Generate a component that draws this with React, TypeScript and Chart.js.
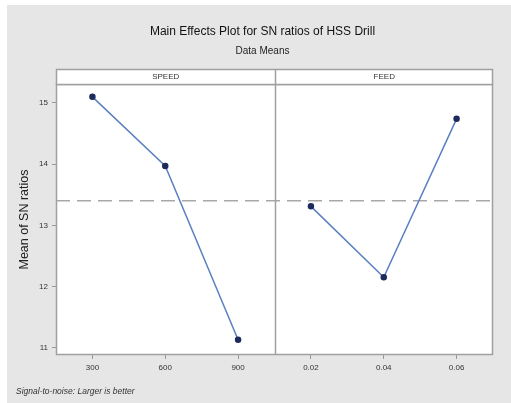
import { useEffect, useRef } from 'react';
import { Chart, registerables } from 'chart.js';

Chart.register(...registerables);

const categories = ['300', '600', '900', '0.02', '0.04', '0.06'];
const factors = ['SPEED', 'FEED'];
const speedMeans = [15.1, 13.97, 11.13];
const feedMeans = [13.31, 12.15, 14.74];
const overallMean = 13.4;
const yMin = 10.88;
const yMax = 15.31;
const titleText = 'Main Effects Plot for SN ratios of HSS Drill';
const subtitleText = 'Data Means';
const yTitle = 'Mean of SN ratios';
const footnote = 'Signal-to-noise: Larger is better';

const FONT = "'Liberation Sans', Arial, sans-serif";

const framePlugin = {
  id: 'frame',
  beforeDraw(chart: any) {
    const { ctx, width, height, chartArea } = chart;
    ctx.save();
    ctx.fillStyle = '#ffffff';
    ctx.fillRect(0, 0, width, height);
    ctx.fillStyle = '#e6e6e6';
    ctx.fillRect(7, 5, width - 7, height - 5);
    ctx.fillStyle = '#ffffff';
    ctx.fillRect(chartArea.left, chartArea.top, chartArea.right - chartArea.left, chartArea.bottom - chartArea.top);
    // titles
    ctx.fillStyle = '#111111';
    ctx.textAlign = 'center';
    ctx.textBaseline = 'middle';
    const cx = (chartArea.left + chartArea.right) / 2;
    ctx.font = `12px ${FONT}`;
    ctx.fillText(titleText, cx - 12, 32);
    ctx.fillStyle = '#222222';
    ctx.font = `10px ${FONT}`;
    ctx.fillText(subtitleText, cx - 12, 51);
    // footnote
    ctx.textAlign = 'left';
    ctx.font = `italic 8.5px ${FONT}`;
    ctx.fillStyle = '#333333';
    ctx.fillText(footnote, 16, 392);
    ctx.restore();
  },
  beforeDatasetsDraw(chart: any) {
    const { ctx, chartArea, scales } = chart;
    const x = scales.x;
    const y = scales.y;
    ctx.save();
    // mean dashed line
    const my = y.getPixelForValue(overallMean);
    ctx.strokeStyle = '#a8a8a8';
    ctx.lineWidth = 1.5;
    ctx.setLineDash([14, 7]);
    ctx.beginPath();
    ctx.moveTo(chartArea.left, my);
    ctx.lineTo(chartArea.right, my);
    ctx.stroke();
    ctx.setLineDash([]);
    // divider
    const dx = Math.round(x.getPixelForValue(2.5)) + 0.5;
    ctx.strokeStyle = '#a0a0a0';
    ctx.lineWidth = 1.5;
    ctx.beginPath();
    ctx.moveTo(dx, chartArea.top - 15);
    ctx.lineTo(dx, chartArea.bottom);
    ctx.stroke();
    // panel border
    ctx.strokeRect(chartArea.left + 0.5, chartArea.top + 0.5, chartArea.right - chartArea.left - 1, chartArea.bottom - chartArea.top - 1);
    // strip
    const stripTop = chartArea.top - 15;
    ctx.fillStyle = '#ffffff';
    ctx.fillRect(chartArea.left, stripTop, chartArea.right - chartArea.left, 15);
    ctx.strokeRect(chartArea.left + 0.5, stripTop + 0.5, chartArea.right - chartArea.left - 1, 15);
    ctx.beginPath();
    ctx.moveTo(dx, stripTop);
    ctx.lineTo(dx, chartArea.top);
    ctx.stroke();
    ctx.fillStyle = '#333333';
    ctx.font = `8px ${FONT}`;
    ctx.textAlign = 'center';
    ctx.textBaseline = 'middle';
    ctx.fillText(factors[0], (chartArea.left + dx) / 2, stripTop + 8);
    ctx.fillText(factors[1], (dx + chartArea.right) / 2, stripTop + 8);
    ctx.restore();
  },
};

export default function App() {
  const ref = useRef<HTMLCanvasElement | null>(null);
  useEffect(() => {
    if (!ref.current) return;
    Chart.defaults.font.family = FONT;
    const speedData = [...speedMeans, ...feedMeans.map(() => null)];
    const feedData = [...speedMeans.map(() => null), ...feedMeans];
    const chart = new Chart(ref.current, {
      type: 'line',
      data: {
        labels: categories,
        datasets: [
          {
            label: factors[0],
            data: speedData,
            borderColor: '#5b7fc0',
            borderWidth: 1.5,
            pointBackgroundColor: '#1d2b5c',
            pointBorderColor: '#1d2b5c',
            pointRadius: 2.5,
            spanGaps: false,
          },
          {
            label: factors[1],
            data: feedData,
            borderColor: '#5b7fc0',
            borderWidth: 1.5,
            pointBackgroundColor: '#1d2b5c',
            pointBorderColor: '#1d2b5c',
            pointRadius: 2.5,
            spanGaps: false,
          },
        ],
      },
      options: {
        responsive: false,
        animation: false,
        devicePixelRatio: 1,
        layout: { padding: { top: 84, right: 18, left: 0, bottom: 0 } },
        plugins: {
          legend: { display: false },
          title: { display: false },
          tooltip: { enabled: false },
        },
        scales: {
          x: {
            type: 'category',
            offset: true,
            grid: { display: true, drawOnChartArea: false, drawTicks: true, tickLength: 4, offset: false, color: '#999999' },
            border: { display: false },
            ticks: { color: '#333333', font: { size: 8 }, padding: 4, maxRotation: 0 },
            afterFit: (s: any) => { s.height = 48; },
          },
          y: {
            min: yMin,
            max: yMax,
            grid: { display: true, drawOnChartArea: false, drawTicks: true, tickLength: 4, color: '#999999' },
            border: { display: false },
            ticks: { stepSize: 1, includeBounds: false, color: '#333333', font: { size: 8 }, padding: 4 },
            title: { display: true, text: yTitle, color: '#222222', font: { size: 12.5 }, padding: { top: 17, bottom: 0 } },
            afterFit: (s: any) => { s.width = 56; },
          },
        },
      },
      plugins: [framePlugin],
    });
    return () => chart.destroy();
  }, []);
  return (
    <div style={{ position: 'absolute', left: 0, top: 0, width: 511, height: 403 }}>
      <canvas ref={ref} width={511} height={403} style={{ display: 'block', width: 511, height: 403 }} />
    </div>
  );
}
